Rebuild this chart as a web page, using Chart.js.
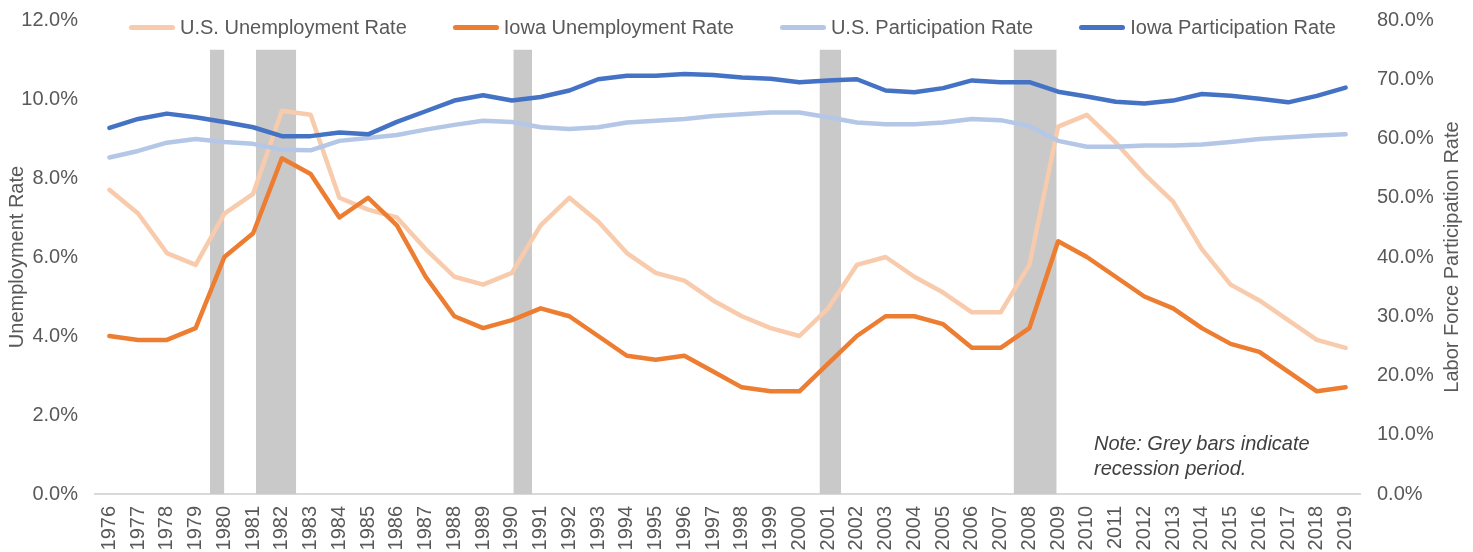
<!DOCTYPE html>
<html>
<head>
<meta charset="utf-8">
<title>Iowa vs U.S. Unemployment and Participation</title>
<script src="https://cdn.jsdelivr.net/npm/chart.js@4.4.1/dist/chart.umd.min.js"></script>
<style>
  body { margin: 0; background: #fff; }
  #wrap { position: relative; width: 1473px; height: 552px; }
  #legend { position: absolute; left: 129px; top: 17px; display: flex; font: 20px 'Liberation Sans', Arial, sans-serif; color: #595959; line-height: 20px; white-space: nowrap; }
  .item { display: flex; align-items: center; margin-right: 46px; }
  .swatch { width: 46px; height: 5px; border-radius: 3px; margin-right: 5px; }
  #note { position: absolute; left: 1094px; top: 431px; font: italic 20px 'Liberation Sans', Arial, sans-serif; line-height: 25px; color: #404040; }
</style>
</head>
<body>
<div id="wrap">
  <canvas id="rateChart" width="1473" height="552"></canvas>
  <div id="legend"></div>
  <div id="note">Note: Grey bars indicate<br>recession period.</div>
</div>
<script>
// Years on the x axis
const years = [1976, 1977, 1978, 1979, 1980, 1981, 1982, 1983, 1984, 1985,
               1986, 1987, 1988, 1989, 1990, 1991, 1992, 1993, 1994, 1995,
               1996, 1997, 1998, 1999, 2000, 2001, 2002, 2003, 2004, 2005,
               2006, 2007, 2008, 2009, 2010, 2011, 2012, 2013, 2014, 2015,
               2016, 2017, 2018, 2019];

// Unemployment rates (%), left axis
const usUnemployment = [7.7, 7.1, 6.1, 5.8, 7.1, 7.6, 9.7, 9.6, 7.5, 7.2,
                        7.0, 6.2, 5.5, 5.3, 5.6, 6.8, 7.5, 6.9, 6.1, 5.6,
                        5.4, 4.9, 4.5, 4.2, 4.0, 4.7, 5.8, 6.0, 5.5, 5.1,
                        4.6, 4.6, 5.8, 9.3, 9.6, 8.9, 8.1, 7.4, 6.2, 5.3,
                        4.9, 4.4, 3.9, 3.7];
const iowaUnemployment = [4.0, 3.9, 3.9, 4.2, 6.0, 6.6, 8.5, 8.1, 7.0, 7.5,
                          6.8, 5.5, 4.5, 4.2, 4.4, 4.7, 4.5, 4.0, 3.5, 3.4,
                          3.5, 3.1, 2.7, 2.6, 2.6, 3.3, 4.0, 4.5, 4.5, 4.3,
                          3.7, 3.7, 4.2, 6.4, 6.0, 5.5, 5.0, 4.7, 4.2, 3.8,
                          3.6, 3.1, 2.6, 2.7];

// Labor force participation rates (%), right axis
const usParticipation = [56.8, 57.9, 59.3, 59.9, 59.4, 59.1, 58.1, 58.0, 59.6, 60.1,
                         60.6, 61.5, 62.3, 63.0, 62.8, 61.9, 61.6, 61.9, 62.7, 63.0,
                         63.3, 63.8, 64.1, 64.4, 64.4, 63.6, 62.7, 62.4, 62.4, 62.7,
                         63.3, 63.1, 62.1, 59.6, 58.6, 58.6, 58.8, 58.8, 59.0, 59.4,
                         59.9, 60.2, 60.5, 60.7];
const iowaParticipation = [61.8, 63.3, 64.2, 63.6, 62.8, 61.9, 60.4, 60.4, 61.0, 60.7,
                           62.8, 64.6, 66.4, 67.3, 66.4, 67.0, 68.1, 70.0, 70.6, 70.6,
                           70.9, 70.7, 70.3, 70.1, 69.5, 69.8, 70.0, 68.1, 67.8, 68.5,
                           69.8, 69.5, 69.5, 67.9, 67.1, 66.2, 65.9, 66.4, 67.5, 67.2,
                           66.7, 66.1, 67.2, 68.6];

// Recession periods, in year units along the x axis
const recessionStart = [1979.5, 1981.1, 1990.05, 2000.7, 2007.45];
const recessionEnd = [1980.0, 1982.5, 1990.7, 2001.45, 2008.95];
const recessionTop = 75; // on the participation axis

const seriesNames = ['U.S. Unemployment Rate', 'Iowa Unemployment Rate',
                     'U.S. Participation Rate', 'Iowa Participation Rate'];
const seriesColors = ['#F8CBAD', '#ED7D31', '#B4C7E7', '#4472C4'];
const seriesValues = [usUnemployment, iowaUnemployment, usParticipation, iowaParticipation];
const seriesAxis = ['y', 'y', 'y2', 'y2'];

Chart.defaults.font.family = "'Liberation Sans', Arial, sans-serif";
Chart.defaults.font.size = 20;
Chart.defaults.color = '#595959';

const lineSets = seriesValues.map((vals, k) => ({
    label: seriesNames[k],
    data: vals.map((v, i) => ({ x: years[i], y: v })),
    yAxisID: seriesAxis[k],
    borderColor: seriesColors[k],
    backgroundColor: seriesColors[k],
    borderWidth: 4.5,
    borderCapStyle: 'round',
    borderJoinStyle: 'round',
    pointRadius: 0,
    tension: 0,
    fill: false,
    order: 3 - k // later series on top, like the original
}));

const recessionSets = recessionStart.map((s, k) => ({
    label: 'Recession',
    data: [{ x: s, y: recessionTop }, { x: recessionEnd[k], y: recessionTop }],
    yAxisID: 'y2',
    borderWidth: 0,
    borderColor: 'rgba(0,0,0,0)',
    backgroundColor: '#C9C9C9',
    pointRadius: 0,
    fill: 'origin',
    order: 10
}));

// Right axis title reads bottom-to-top, so draw it here
const rightTitle = {
    id: 'rightTitle',
    afterDraw(chart) {
        const { ctx, chartArea } = chart;
        const s = chart.scales.y2;
        ctx.save();
        ctx.translate(s.right - 21, (chartArea.top + chartArea.bottom) / 2);
        ctx.rotate(-Math.PI / 2);
        ctx.font = "20px 'Liberation Sans', Arial, sans-serif";
        ctx.fillStyle = '#595959';
        ctx.textAlign = 'center';
        ctx.textBaseline = 'middle';
        ctx.fillText('Labor Force Participation Rate', 0, 0);
        ctx.restore();
    }
};

const pct = v => v.toFixed(1) + '%';

// y axes: fixed width, and let the top label hang over the plot edge
const fitY = width => axis => {
    axis.width = width;
    axis.paddingTop = 0;
    axis.paddingBottom = 0;
};

const chart = new Chart(document.getElementById('rateChart'), {
    type: 'line',
    data: { datasets: [...recessionSets, ...lineSets] },
    options: {
        responsive: false,
        animation: false,
        layout: { padding: { top: 20, left: 0, right: 0, bottom: 0 } },
        plugins: { legend: { display: false }, tooltip: { enabled: false } },
        scales: {
            x: {
                type: 'linear',
                min: years[0] - 0.5,
                max: years[years.length - 1] + 0.5,
                afterBuildTicks: axis => { axis.ticks = years.map(v => ({ value: v })); },
                afterFit: axis => { axis.height = 58; },
                grid: { display: false, drawTicks: false },
                border: { display: true, color: '#D9D9D9', width: 2 },
                ticks: { autoSkip: false, minRotation: 90, maxRotation: 90, padding: 12, callback: v => String(v) }
            },
            y: {
                position: 'left',
                min: 0,
                max: 12,
                ticks: { stepSize: 2, padding: 17, callback: pct },
                grid: { display: false, drawTicks: false },
                border: { display: false },
                title: { display: true, text: 'Unemployment Rate', color: '#595959',
                         font: { size: 20, lineHeight: 1 }, padding: { top: 7, bottom: 0 } },
                afterFit: fitY(95)
            },
            y2: {
                position: 'right',
                min: 0,
                max: 80,
                ticks: { stepSize: 10, padding: 17, callback: pct },
                grid: { display: false, drawTicks: false },
                border: { display: false },
                afterFit: fitY(113)
            }
        }
    },
    plugins: [rightTitle]
});

// HTML legend built from the series lists
const legend = document.getElementById('legend');
seriesNames.forEach((name, k) => {
    const item = document.createElement('div');
    item.className = 'item';
    const sw = document.createElement('span');
    sw.className = 'swatch';
    sw.style.background = seriesColors[k];
    const txt = document.createElement('span');
    txt.textContent = name;
    item.appendChild(sw);
    item.appendChild(txt);
    legend.appendChild(item);
});
</script>
</body>
</html>
